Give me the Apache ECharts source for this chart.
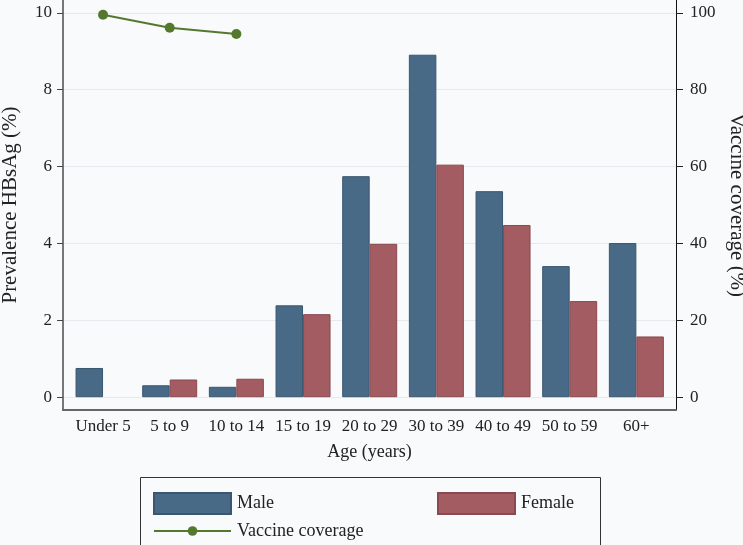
<!DOCTYPE html>
<html>
<head>
<meta charset="utf-8">
<script src="https://cdn.jsdelivr.net/npm/echarts@6/dist/echarts.min.js"></script>
<style>
html,body{margin:0;padding:0;background:#f9fafb;}
#c{width:743px;height:545px;}
</style>
</head>
<body>
<div id="c"></div>
<script>
var categories = ['Under 5','5 to 9','10 to 14','15 to 19','20 to 29','30 to 39','40 to 49','50 to 59','60+'];
var male = [0.76,0.31,0.27,2.39,5.75,8.91,5.36,3.41,4.01];
var female = ['-',0.46,0.48,2.16,3.99,6.05,4.48,2.50,1.58];
var vaccine = [99.5,96.1,94.5,'-','-','-','-','-','-'];
var leftTicks = [0,2,4,6,8,10];
var rightTicks = [0,20,40,60,80,100];

var FONT = 'Liberation Serif';
var TXT = '#222';
var maleColor = '#486a87', femaleColor = '#a25c62', lineColor = '#55782f';
var leftMin = -1/3, leftMax = 31/3, rightMin = -10/3, rightMax = 310/3;

var chart = echarts.init(document.getElementById('c'));
chart.setOption({
  backgroundColor: '#f9fafb',
  textStyle: {fontFamily: FONT, color: TXT},
  grid: [
    {left: 63, right: 67, top: 0, bottom: 135, containLabel: false, outerBoundsMode: 'none'},
    {left: 69.7, right: 73.3, top: 0, bottom: 135, containLabel: false, outerBoundsMode: 'none'}
  ],
  xAxis: [
    {type: 'value', gridIndex: 0, min: 0, max: 1,
     axisLine: {show: true, onZero: false, lineStyle: {color: '#666', width: 2}},
     axisTick: {show: false}, axisLabel: {show: false}, splitLine: {show: false},
     name: 'Age (years)', nameLocation: 'middle', nameGap: 33,
     nameTextStyle: {fontFamily: FONT, fontSize: 18, color: TXT}},
    {type: 'category', gridIndex: 1, data: categories,
     axisLine: {show: false, onZero: false}, axisTick: {show: false},
     axisLabel: {fontFamily: FONT, fontSize: 17, color: TXT, margin: 8, interval: 0}}
  ],
  yAxis: [
    {type: 'value', gridIndex: 0, position: 'left', min: leftMin, max: leftMax,
     axisLine: {show: true, onZero: false, lineStyle: {color: '#777', width: 2}},
     axisTick: {show: true, length: 6, customValues: leftTicks, lineStyle: {color: '#444'}},
     axisLabel: {customValues: leftTicks, fontFamily: FONT, fontSize: 17, color: TXT, margin: 11},
     splitLine: {show: true, lineStyle: {color: '#e4eaee', width: 1}},
     name: 'Prevalence HBsAg (%)', nameLocation: 'middle', nameGap: 42,
     nameTextStyle: {fontFamily: FONT, fontSize: 21, color: TXT}},
    {type: 'value', gridIndex: 0, position: 'right', min: rightMin, max: rightMax,
     axisLine: {show: true, onZero: false, lineStyle: {color: '#111', width: 1}},
     axisTick: {show: true, length: 7, customValues: rightTicks, lineStyle: {color: '#222'}},
     axisLabel: {customValues: rightTicks, fontFamily: FONT, fontSize: 17, color: TXT, margin: 14},
     splitLine: {show: false},
     name: 'Vaccine coverage (%)', nameLocation: 'middle', nameGap: 47, nameRotate: -90,
     nameTextStyle: {fontFamily: FONT, fontSize: 21, color: TXT}},
    {type: 'value', gridIndex: 1, min: leftMin, max: leftMax, show: false},
    {type: 'value', gridIndex: 1, min: rightMin, max: rightMax, show: false}
  ],
  legend: [
    {data: ['Male'], left: 148, top: 487, itemWidth: 77, itemHeight: 21, icon: 'rect',
     textStyle: {fontFamily: FONT, fontSize: 18, color: TXT, padding: [0,0,0,1]}},
    {data: ['Female'], left: 432, top: 487, itemWidth: 77, itemHeight: 21, icon: 'rect',
     textStyle: {fontFamily: FONT, fontSize: 18, color: TXT, padding: [0,0,0,1]}},
    {data: ['Vaccine coverage'], left: 148, top: 517, itemWidth: 77, itemHeight: 12,
     textStyle: {fontFamily: FONT, fontSize: 18, color: TXT, padding: [0,0,0,1]}}
  ],
  graphic: [
    {type: 'rect', shape: {x: 140.5, y: 477.5, width: 460, height: 80},
     style: {fill: 'none', stroke: '#333', lineWidth: 1}, silent: true}
  ],
  series: [
    {name: 'Male', type: 'bar', xAxisIndex: 1, yAxisIndex: 2, data: male,
     barGap: '0%', barCategoryGap: '17.5%',
     itemStyle: {color: maleColor, borderColor: '#3a5670', borderWidth: 1}},
    {name: 'Female', type: 'bar', xAxisIndex: 1, yAxisIndex: 2, data: female,
     barGap: '0%', barCategoryGap: '17.5%',
     itemStyle: {color: femaleColor, borderColor: '#8a4850', borderWidth: 1}},
    {name: 'Vaccine coverage', type: 'line', xAxisIndex: 1, yAxisIndex: 3, data: vaccine,
     symbol: 'circle', symbolSize: 10, connectNulls: false,
     lineStyle: {color: lineColor, width: 2}, itemStyle: {color: lineColor}}
  ],
  animation: false
});
</script>
</body>
</html>
